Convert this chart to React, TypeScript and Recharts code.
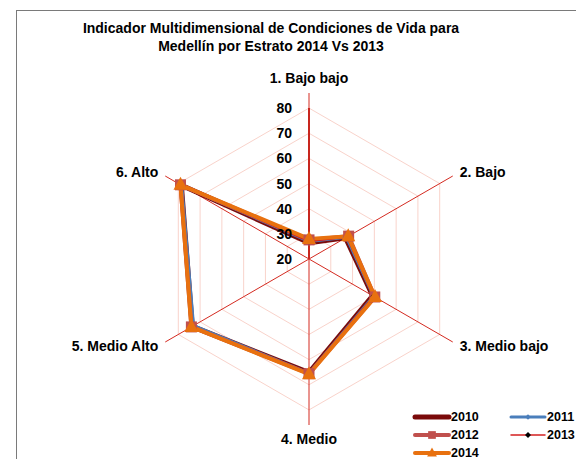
import React from 'react';
import { RadarChart, Radar, PolarGrid, PolarAngleAxis, PolarRadiusAxis } from 'recharts';

const categories = ['1. Bajo bajo', '2. Bajo', '3. Medio bajo', '4. Medio', '5. Medio Alto', '6. Alto'];
const s2010 = [26.5, 36.8, 49.2, 65.2, 73.6, 78.6];
const s2011 = [27.0, 37.2, 49.6, 65.4, 73.0, 78.4];
const s2012 = [27.6, 38.2, 50.2, 65.6, 74.0, 79.0];
const s2013 = [27.0, 37.4, 49.6, 65.4, 73.6, 78.8];
const s2014 = [28.0, 38.0, 50.3, 65.8, 74.0, 79.0];
const years = ['2010', '2011', '2012', '2013', '2014'];
const radiusTicks = [20, 30, 40, 50, 60, 70, 80];
const titleLines = ['Indicador Multidimensional de Condiciones de Vida para', 'Medellín por Estrato 2014 Vs 2013'];

const data = categories.map((c, i) => ({
  cat: c,
  y2010: s2010[i],
  y2011: s2011[i],
  y2012: s2012[i],
  y2013: s2013[i],
  y2014: s2014[i],
}));

const FONT = '"Liberation Sans", Arial, Helvetica, sans-serif';

const styles: Record<string, { color: string; width: number; marker: string }> = {
  '2010': { color: '#7A0A0A', width: 5, marker: 'none' },
  '2011': { color: '#4A7EBB', width: 3, marker: 'diamond' },
  '2012': { color: '#C0504D', width: 4, marker: 'square' },
  '2013': { color: '#D42020', width: 1.5, marker: 'blackdiamond' },
  '2014': { color: '#E8710F', width: 4, marker: 'triangle' },
};

const Marker = ({ kind, cx, cy, color, s = 1 }: { kind: string; cx: number; cy: number; color: string; s?: number }) => {
  if (kind === 'square') return <rect x={cx - 5.5 * s} y={cy - 5.5 * s} width={11 * s} height={11 * s} fill={color} />;
  if (kind === 'triangle')
    return <polygon points={`${cx},${cy - 8 * s} ${cx + 7 * s},${cy + 5 * s} ${cx - 7 * s},${cy + 5 * s}`} fill={color} />;
  if (kind === 'diamond')
    return <polygon points={`${cx},${cy - 4 * s} ${cx + 4 * s},${cy} ${cx},${cy + 4 * s} ${cx - 4 * s},${cy}`} fill={color} />;
  if (kind === 'blackdiamond')
    return <polygon points={`${cx},${cy - 3} ${cx + 3},${cy} ${cx},${cy + 3} ${cx - 3},${cy}`} fill="#000" />;
  return <g />;
};

const makeDot = (year: string) => (props: any) => {
  const st = styles[year];
  if (props.cx == null || props.cy == null) return <g key={`${year}-${props.index}`} />;
  return (
    <g key={`${year}-${props.index}`}>
      <Marker kind={st.marker} cx={props.cx} cy={props.cy} color={st.color} />
    </g>
  );
};

const AngleTick = (props: any) => {
  const { x, y, payload, textAnchor } = props;
  const v = payload.value;
  let dy = 0;
  let anchor = textAnchor;
  if (v === categories[0]) { dy = -7; anchor = 'middle'; }
  if (v === categories[3]) { dy = 6; anchor = 'middle'; }
  return (
    <text x={x} y={y + dy} textAnchor={anchor} dominantBaseline="central" fontFamily={FONT} fontWeight="bold" fontSize={14} fill="#000">
      {v}
    </text>
  );
};

const RadiusTick = (props: any) => {
  const { x, y, payload } = props;
  return (
    <text x={x - 17} y={y} textAnchor="end" dominantBaseline="central" fontFamily={FONT} fontWeight="bold" fontSize={14} fill="#000">
      {payload.value}
    </text>
  );
};

const legendPos: Record<string, [number, number]> = {
  '2010': [415, 417],
  '2011': [511, 417],
  '2012': [415, 435],
  '2013': [511, 435],
  '2014': [415, 453],
};

const LegendOverlay = () => (
  <svg width={576} height={459} style={{ position: 'absolute', left: 0, top: 0, pointerEvents: 'none' }}>
    {years.map((yr) => {
      const [lx, ly] = legendPos[yr];
      const st = styles[yr];
      return (
        <g key={yr}>
          <line x1={lx} y1={ly} x2={lx + 34} y2={ly} stroke={st.color} strokeWidth={st.width} strokeLinecap="round" />
          <Marker kind={st.marker} cx={lx + 17} cy={ly} color={st.color} s={0.7} />
          <text x={lx + 36} y={ly} dominantBaseline="central" fontFamily={FONT} fontWeight="bold" fontSize={12.5} fill="#000">
            {yr}
          </text>
        </g>
      );
    })}
  </svg>
);

export default function App() {
  return (
    <div style={{ position: 'fixed', left: 0, top: 0, width: 576, height: 459, overflow: 'hidden', background: '#fff' }}>
      <div style={{ position: 'absolute', left: 16, top: 10, width: 620, height: 520, border: '1px solid #7a7a7a', boxSizing: 'border-box' }} />
      <div style={{ position: 'absolute', left: 0, top: 0 }}>
        <RadarChart width={576} height={459} data={data} cx={309} cy={259} outerRadius={166} margin={{ top: 0, right: 0, bottom: 0, left: 0 }}>
          <PolarGrid gridType="polygon" radialLines={false} stroke="#F9D3CB" strokeWidth={1} />
          <PolarGrid gridType="polygon" polarRadius={[]} radialLines={true} stroke="#D42A20" strokeWidth={1} />
          <PolarAngleAxis dataKey="cat" axisLine={false} tickLine={false} tick={AngleTick} />
          <PolarRadiusAxis angle={90} type="number" domain={[20, 85.5]} ticks={radiusTicks} axisLine={{ stroke: '#C8261E', strokeWidth: 2 }} tickLine={false} tick={RadiusTick} />
          {years.map((yr) => (
            <Radar
              key={yr}
              name={yr}
              dataKey={`y${yr}`}
              stroke={styles[yr].color}
              strokeWidth={styles[yr].width}
              fill="none"
              fillOpacity={0}
              dot={makeDot(yr)}
              isAnimationActive={false}
            />
          ))}
        </RadarChart>
      </div>
      <div style={{ position: 'absolute', left: 0, top: 19, width: 542, textAlign: 'center', fontFamily: FONT, fontWeight: 'bold', fontSize: 14, lineHeight: '18px', color: '#000' }}>
        {titleLines.map((t) => (
          <div key={t}>{t}</div>
        ))}
      </div>
      <LegendOverlay />
    </div>
  );
}
